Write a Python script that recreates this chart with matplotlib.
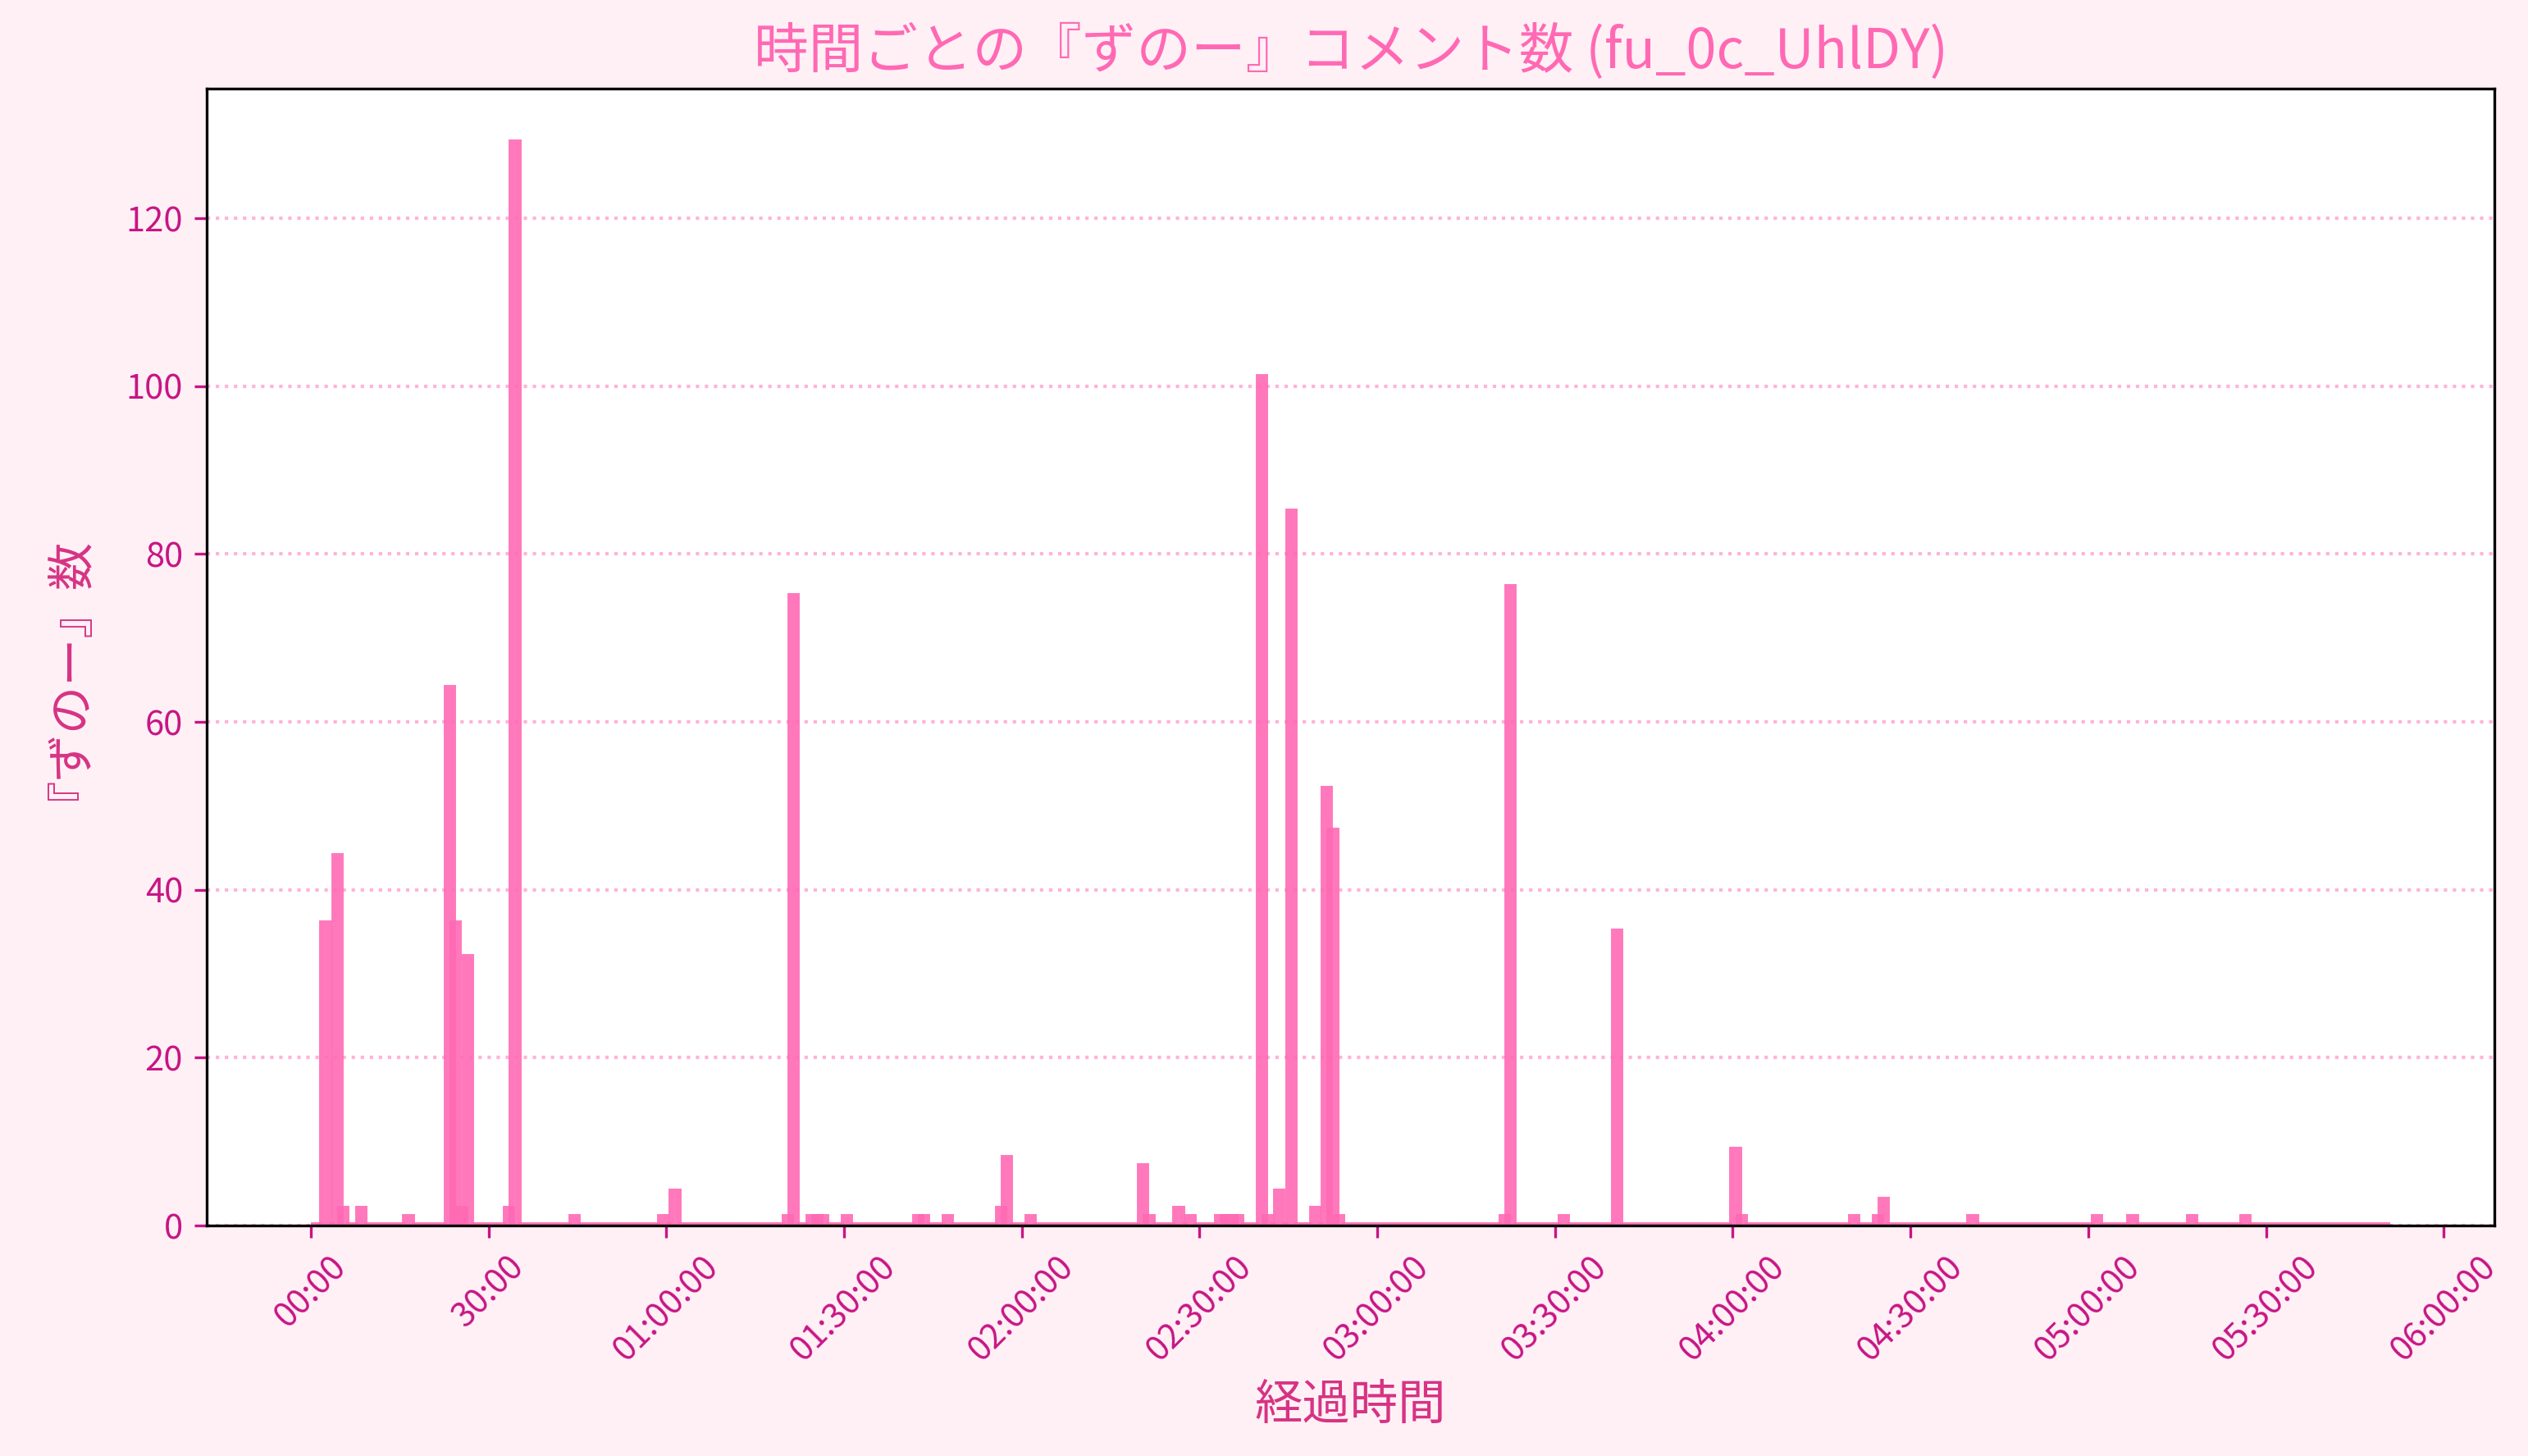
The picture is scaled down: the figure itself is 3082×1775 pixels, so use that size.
import numpy as np
import matplotlib.pyplot as plt
from matplotlib.ticker import FuncFormatter, MultipleLocator

plt.rcParams['font.family'] = ['Noto Sans CJK JP', 'DejaVu Sans']

# -------------------- data (1-minute bins, elapsed seconds) --------------------
n_bins = 351
bin_sec = 60
hit_minutes = [2, 4, 5, 8, 16, 23, 24, 25, 26, 33, 34, 44, 59, 61,
               80, 81, 84, 85, 86, 90, 102, 103, 107, 116, 117, 121,
               140, 141, 146, 148, 153, 154, 155, 156, 160, 161, 163, 165,
               169, 171, 172, 173, 201, 202, 211, 220, 240, 241,
               260, 264, 265, 280, 301, 307, 317, 326]
hit_counts = [36, 44, 2, 2, 1, 64, 36, 2, 32, 2, 129, 1, 1, 4,
              1, 75, 1, 1, 1, 1, 1, 1, 1, 2, 8, 1,
              7, 1, 2, 1, 1, 1, 1, 1, 101, 1, 4, 85,
              2, 52, 47, 1, 1, 76, 1, 35, 9, 1,
              1, 1, 3, 1, 1, 1, 1, 1]

counts = np.zeros(n_bins)
counts[hit_minutes] = hit_counts
edges = np.arange(n_bins) * bin_sec

title = "時間ごとの『ずのー』コメント数 (fu_0c_UhlDY)"


def fmt_time(x, pos):
    t = int(round(x))
    h, rem = divmod(t, 3600)
    m, s = divmod(rem, 60)
    if h == 0:
        return f"{m:02d}:{s:02d}"
    return f"{h:02d}:{m:02d}:{s:02d}"


# -------------------- plot --------------------
fig = plt.figure(figsize=(3082 / 300, 1775 / 300), dpi=300, facecolor='#fff0f5')
ax = fig.add_axes([0.0818, 0.1583, 0.9049, 0.7809])
ax.set_facecolor('white')

# stroke-only bars so the 0-count minutes still show as a thin line
ax.bar(edges, counts, width=bin_sec, align='edge',
       facecolor='none', edgecolor=(1.0, 0.412, 0.706, 0.9), linewidth=1.9)

ax.grid(axis='y', linestyle=':', color='hotpink', alpha=0.5, linewidth=1)
ax.set_axisbelow(True)

ax.xaxis.set_major_locator(MultipleLocator(1800))
ax.xaxis.set_major_formatter(FuncFormatter(fmt_time))
ax.tick_params(axis='both', colors='#c71585', labelsize=10)
plt.setp(ax.get_xticklabels(), rotation=45)

ax.set_title(title, color='hotpink', fontsize=16)
ax.set_xlabel("経過時間", color='#d63384', fontsize=14)
ax.set_ylabel("『ずのー』数", color='#d63384', fontsize=14, labelpad=16)

fig.savefig('out.png', dpi=300, facecolor=fig.get_facecolor())
